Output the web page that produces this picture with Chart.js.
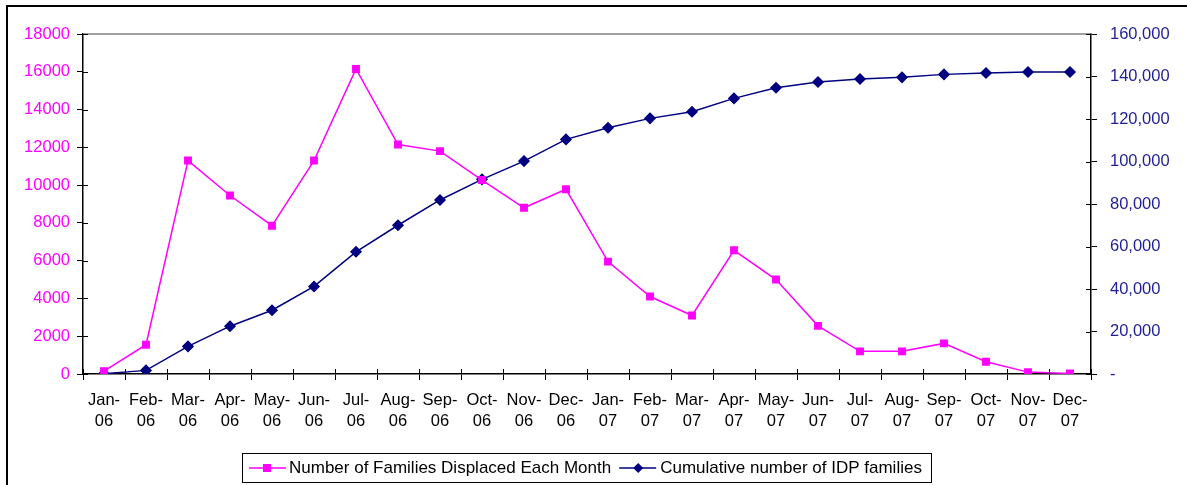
<!DOCTYPE html>
<html><head><meta charset="utf-8">
<script src="https://cdn.jsdelivr.net/npm/chart.js@4"></script>
<style>
html,body{margin:0;padding:0;background:#fff;overflow:hidden;width:1187px;height:485px}
#frame{position:absolute;left:6px;top:5px;width:1300px;height:600px;border:2px solid #000;box-sizing:border-box}
#c{position:absolute;left:0;top:0}
</style></head><body>
<div id="frame"></div>
<canvas id="c" width="1187" height="485"></canvas>
<script>
const months = ['Jan-06','Feb-06','Mar-06','Apr-06','May-06','Jun-06','Jul-06','Aug-06','Sep-06','Oct-06','Nov-06','Dec-06',
                'Jan-07','Feb-07','Mar-07','Apr-07','May-07','Jun-07','Jul-07','Aug-07','Sep-07','Oct-07','Nov-07','Dec-07'];
const monthlyDisplaced = [150,1550,11300,9450,7850,11300,16150,12150,11800,10270,8800,9780,
                          5950,4100,3100,6550,5000,2550,1200,1200,1620,650,100,30];
const cumulativeIDP = [150,1700,13000,22500,30000,41200,57500,70000,81900,91600,100200,110400,
                       115900,120300,123400,129700,134700,137400,138800,139600,141000,141650,142100,142100];
const leftTicks = [0,2000,4000,6000,8000,10000,12000,14000,16000,18000];
const rightTicks = [0,20000,40000,60000,80000,100000,120000,140000,160000];
const seriesNames = ['Number of Families Displaced Each Month','Cumulative number of IDP families'];

const MAGENTA = '#FF00FF', NAVY = '#000080', NAVY_TEXT = '#1e1e96';
const FONT = "'Liberation Sans', Arial, sans-serif";
const FS = 16.5;

const extras = {
  id: 'extras',
  afterDraw(chart) {
    const ctx = chart.ctx, a = chart.chartArea;
    ctx.save();
    ctx.strokeStyle = '#808080'; ctx.lineWidth = 1.5;
    ctx.beginPath(); ctx.moveTo(a.left, a.top); ctx.lineTo(a.right, a.top); ctx.stroke();
    ctx.strokeStyle = '#000'; ctx.lineWidth = 1;
    const y = chart.scales.y, y2 = chart.scales.y2;
    ctx.beginPath();
    leftTicks.forEach(v => { const p = Math.round(y.getPixelForValue(v)) + 0.5; ctx.moveTo(a.left, p); ctx.lineTo(a.left + 5, p); });
    rightTicks.forEach(v => { const p = Math.round(y2.getPixelForValue(v)) + 0.5; ctx.moveTo(a.right, p); ctx.lineTo(a.right - 5, p); });
    const w = (a.right - a.left) / months.length;
    for (let i = 0; i <= months.length; i++) { const p = Math.round(a.left + i * w) + 0.5; ctx.moveTo(p, a.bottom); ctx.lineTo(p, a.bottom - 5); }
    ctx.stroke();

    // legend
    const bx = 242, by = 453, bw = 689, bh = 29, cy = by + bh / 2 + 0.5;
    ctx.lineWidth = 1; ctx.strokeStyle = '#000';
    ctx.strokeRect(bx + 0.5, by + 0.5, bw, bh);
    ctx.font = '17px ' + FONT; ctx.textBaseline = 'middle'; ctx.fillStyle = '#000';
    let cx = bx + 7;
    ctx.strokeStyle = MAGENTA; ctx.lineWidth = 1.5;
    ctx.beginPath(); ctx.moveTo(cx, cy); ctx.lineTo(cx + 37, cy); ctx.stroke();
    ctx.fillStyle = MAGENTA; ctx.fillRect(cx + 18 - 4, cy - 4, 8, 8);
    cx += 40;
    ctx.fillStyle = '#000'; ctx.fillText(seriesNames[0], cx, cy);
    cx += ctx.measureText(seriesNames[0]).width + 8;
    ctx.strokeStyle = NAVY; ctx.lineWidth = 1.5;
    ctx.beginPath(); ctx.moveTo(cx, cy); ctx.lineTo(cx + 37, cy); ctx.stroke();
    ctx.fillStyle = NAVY;
    ctx.beginPath(); ctx.moveTo(cx + 19, cy - 5); ctx.lineTo(cx + 24, cy); ctx.lineTo(cx + 19, cy + 5); ctx.lineTo(cx + 14, cy); ctx.closePath(); ctx.fill();
    cx += 41;
    ctx.fillStyle = '#000'; ctx.fillText(seriesNames[1], cx, cy);
    ctx.restore();
  }
};

new Chart(document.getElementById('c'), {
  type: 'line',
  data: {
    labels: months.map(m => [m.slice(0, 4), m.slice(4)]),
    datasets: [
      { label: seriesNames[0], data: monthlyDisplaced, yAxisID: 'y', borderColor: MAGENTA, backgroundColor: MAGENTA,
        borderWidth: 1.5, pointStyle: 'rect', pointRadius: 4.5, pointHoverRadius: 4.5, tension: 0, order: 1 },
      { label: seriesNames[1], data: cumulativeIDP, yAxisID: 'y2', borderColor: NAVY, backgroundColor: NAVY,
        borderWidth: 1.5, pointStyle: 'rectRot', pointRadius: 5, pointHoverRadius: 5, tension: 0, order: 2 }
    ]
  },
  options: {
    responsive: false, animation: false, devicePixelRatio: 1,
    layout: { padding: { top: 34, left: 0, right: 0, bottom: 0 }, autoPadding: false },
    plugins: { legend: { display: false }, tooltip: { enabled: false }, title: { display: false } },
    scales: {
      x: {
        offset: true,
        grid: { offset: true, drawOnChartArea: false, tickLength: 6, color: '#000' },
        border: { color: '#000', width: 1.5 },
        ticks: { color: '#000', font: { family: FONT, size: FS, lineHeight: 1.33 }, padding: 9, maxRotation: 0, autoSkip: false },
        afterFit(s) { s.height = 111; }
      },
      y: {
        position: 'left', min: 0, max: 18000,
        afterBuildTicks(s) { s.ticks = leftTicks.map(v => ({ value: v })); },
        grid: { drawOnChartArea: false, tickLength: 6, color: '#000' },
        border: { color: '#000', width: 1.5 },
        ticks: { color: MAGENTA, font: { family: FONT, size: FS }, padding: 7, callback: v => String(v) },
        afterFit(s) { s.width = 83; }
      },
      y2: {
        position: 'right', min: 0, max: 160000,
        afterBuildTicks(s) { s.ticks = rightTicks.map(v => ({ value: v })); },
        grid: { drawOnChartArea: false, tickLength: 6, color: '#000' },
        border: { color: '#000', width: 1.5 },
        ticks: { color: NAVY_TEXT, font: { family: FONT, size: FS }, padding: 13,
                 callback: v => v === 0 ? '-' : v.toLocaleString('en-US') },
        afterFit(s) { s.width = 96; }
      }
    }
  },
  plugins: [extras]
});
</script>
</body></html>
